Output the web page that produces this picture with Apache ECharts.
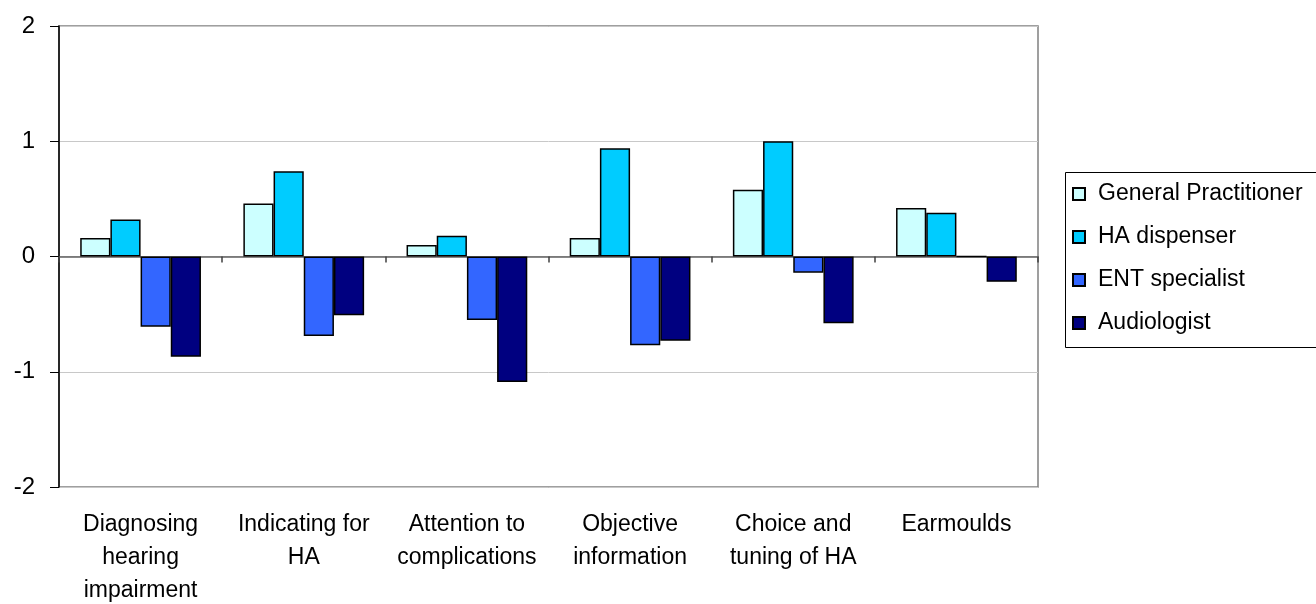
<!DOCTYPE html>
<html>
<head>
<meta charset="utf-8">
<script src="https://cdn.jsdelivr.net/npm/echarts@6/dist/echarts.min.js"></script>
<style>
  html, body { margin: 0; padding: 0; background: #fff; }
  #chart { width: 1316px; height: 604px; }
</style>
</head>
<body>
<div id="chart"></div>
<script>
  // categories and values
  const categories = ['Diagnosing\nhearing\nimpairment', 'Indicating for\nHA', 'Attention to\ncomplications', 'Objective\ninformation', 'Choice and\ntuning of HA', 'Earmoulds']
  const generalPractitioner = [0.16, 0.46, 0.10, 0.16, 0.58, 0.42]
  const haDispenser = [0.32, 0.74, 0.18, 0.94, 1.00, 0.38]
  const entSpecialist = [-0.61, -0.69, -0.55, -0.77, -0.14, 0]
  const audiologist = [-0.87, -0.51, -1.09, -0.73, -0.58, -0.22]
  const yTicks = [-2, -1, 0, 1, 2]

  const font = '"Liberation Sans", Arial, sans-serif'

  function bar(name, color, data) {
    return {
      name: name,
      type: 'bar',
      xAxisIndex: 0,
      barGap: '0%',
      barCategoryGap: '26%',
      itemStyle: { color: color, borderColor: '#000', borderWidth: 1.5 },
      data: data
    }
  }

  const myChart = echarts.init(document.getElementById('chart'))
  const options = {
    backgroundColor: '#fff',
    animation: false,
    grid: {
      left: 59, right: 278, top: 26, bottom: 117,
      show: true,
      borderColor: '#808080',
      borderWidth: 1.5,
      containLabel: false,
      outerBoundsMode: 'none'
    },
    // legend frame runs off the right edge like in the original
    graphic: [{
      type: 'rect',
      left: 1063,
      top: 170,
      shape: { width: 300, height: 175 },
      style: { fill: 'none', stroke: '#000', lineWidth: 1 },
      silent: true
    }],
    legend: {
      orient: 'vertical',
      left: 1072,
      top: 181,
      padding: 0,
      itemGap: 17,
      itemWidth: 12,
      itemHeight: 12,
      icon: 'rect',
      textStyle: { fontFamily: font, fontSize: 23, lineHeight: 26, color: '#000', padding: [0, 0, 0, 8] },
      data: ['General Practitioner', 'HA dispenser', 'ENT specialist', 'Audiologist']
    },
    xAxis: [{
      type: 'category',
      position: 'bottom',
      data: categories,
      axisLine: { show: false, onZero: false },
      axisTick: { show: false },
      axisLabel: {
        interval: 0,
        margin: 21,
        fontFamily: font,
        fontSize: 23,
        lineHeight: 33,
        color: '#000',
        align: 'center'
      },
      splitLine: { show: false }
    }, {
      type: 'category',
      position: 'top',
      data: categories,
      axisLine: { show: true, onZero: true, lineStyle: { color: '#606060', width: 1.5 } },
      axisTick: { show: true, inside: true, length: 6, lineStyle: { color: '#404040', width: 1.5 } },
      axisLabel: { show: false },
      splitLine: { show: false }
    }],
    yAxis: {
      type: 'value',
      min: yTicks[0],
      max: yTicks[yTicks.length - 1],
      interval: 1,
      axisLine: { show: true, lineStyle: { color: '#000', width: 1.5 } },
      axisTick: { show: true, length: 9, lineStyle: { color: '#000', width: 1 } },
      axisLabel: { fontFamily: font, fontSize: 24, color: '#000', margin: 24 },
      splitLine: { show: true, lineStyle: { color: '#c8c8c8', width: 1 } }
    },
    series: [
      bar('General Practitioner', '#ccffff', generalPractitioner),
      bar('HA dispenser', '#00ccff', haDispenser),
      bar('ENT specialist', '#3366ff', entSpecialist),
      bar('Audiologist', '#000080', audiologist)
    ]
  }
  myChart.setOption(options)
</script>
</body>
</html>
